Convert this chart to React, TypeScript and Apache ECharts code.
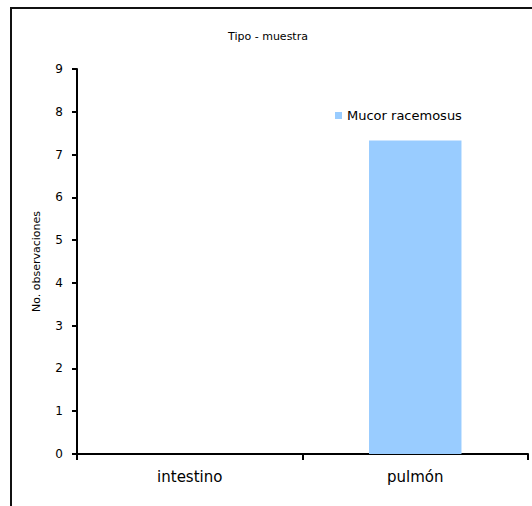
import React, { useEffect, useRef } from "react";
import * as echarts from "echarts";

const categories = ["intestino", "pulmón"];
const seriesName = "Mucor racemosus";
const values = [0, 7.33];
const chartTitle = "Tipo - muestra";
const yAxisName = "No. observaciones";

export default function App() {
  const ref = useRef<HTMLDivElement>(null);
  useEffect(() => {
    if (!ref.current) return;
    document.body.style.margin = "0";
    const chart = echarts.init(ref.current, null, { renderer: "svg" });
    const font = "DejaVu Sans";
    chart.setOption({
      animation: false,
      backgroundColor: "#ffffff",
      textStyle: { fontFamily: font },
      title: {
        text: chartTitle,
        left: 263,
        top: 26,
        textAlign: "center",
        textStyle: { fontFamily: font, fontSize: 11, fontWeight: "normal", color: "#000" },
      },
      legend: {
        data: [seriesName],
        left: 330,
        top: 104,
        itemWidth: 7,
        itemHeight: 7,
        itemGap: 5,
        icon: "rect",
        textStyle: { fontFamily: font, fontSize: 13, color: "#000" },
      },
      graphic: {
        elements: [
          {
            type: "rect",
            z: 100,
            shape: { x: 10, y: 7, width: 522, height: 2 },
            style: { fill: "#111" },
            silent: true,
          },
          {
            type: "rect",
            z: 100,
            shape: { x: 10, y: 7, width: 2, height: 499 },
            style: { fill: "#111" },
            silent: true,
          },
        ],
      },
      grid: { left: 77, top: 69, right: 4, bottom: 52, containLabel: false },
      xAxis: {
        type: "category",
        data: categories,
        axisLine: { lineStyle: { color: "#000", width: 2 } },
        axisTick: { show: true, length: 6, lineStyle: { color: "#000", width: 2 } },
        axisLabel: { color: "#000", fontFamily: font, fontSize: 15, margin: 15 },
      },
      yAxis: {
        type: "value",
        min: 0,
        max: 9,
        interval: 1,
        name: yAxisName,
        nameLocation: "middle",
        nameGap: 35,
        nameTextStyle: { fontFamily: font, fontSize: 11, color: "#000" },
        axisLine: { show: true, lineStyle: { color: "#000", width: 2 } },
        axisTick: { show: true, length: 5, lineStyle: { color: "#000", width: 2 } },
        axisLabel: { color: "#000", fontFamily: font, fontSize: 12, margin: 14 },
        splitLine: { show: false },
      },
      series: [
        {
          name: seriesName,
          type: "bar",
          data: values,
          barWidth: "41%",
          itemStyle: { color: "#99CCFF" },
        },
      ],
    });
    return () => chart.dispose();
  }, []);
  return <div ref={ref} style={{ width: 532, height: 506 }} />;
}
